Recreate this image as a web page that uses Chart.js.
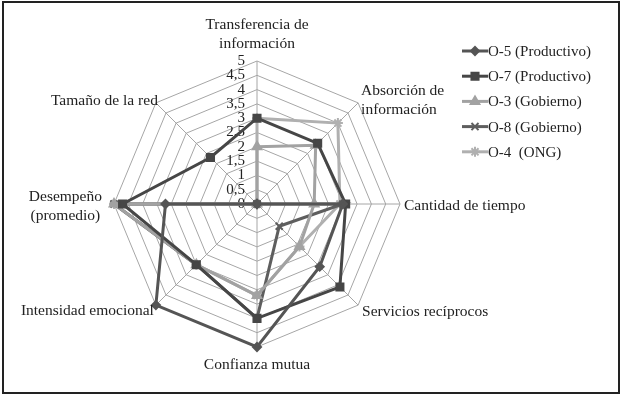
<!doctype html>
<html lang="es">
<head>
<meta charset="utf-8">
<title>Radar</title>
<script src="https://cdn.jsdelivr.net/npm/chart.js"></script>
<style>
  html, body { margin: 0; padding: 0; background: #fff; }
  #wrap { position: relative; width: 623px; height: 400px; }
  #frame { position: absolute; left: 2px; top: 1px; width: 618px; height: 393px; border: 2px solid #222; box-sizing: border-box; pointer-events: none; }
</style>
</head>
<body>
<div id="wrap">
  <canvas id="canvas" width="623" height="400"></canvas>
  <div id="frame"></div>
</div>
<script>
// axes, clockwise from the top
var categories = [
  ['Transferencia de', 'información'],
  ['Absorción de', 'información'],
  'Cantidad de tiempo',
  'Servicios recíprocos',
  'Confianza mutua',
  'Intensidad emocional',
  ['Desempeño', '(promedio)'],
  'Tamaño de la red'
];
var seriesNames = ['O-5 (Productivo)', 'O-7 (Productivo)', 'O-3 (Gobierno)', 'O-8 (Gobierno)', 'O-4  (ONG)'];
var o5 = [0, 0, 3, 3.1, 5, 5, 3.2, 0];
var o7 = [3, 3, 3.1, 4.1, 4, 3, 4.7, 2.3];
var o3 = [2, 2.9, 2, 2.1, 3.2, 3, 5, 0];
var o8 = [0, 0, 3, 1.1, 4, 3, 5, 0];
var o4 = [3, 4, 2.9, 2.1, 3.2, 3, 5, 0];
var tickLabels = ['0', '0,5', '1', '1,5', '2', '2,5', '3', '3,5', '4', '4,5', '5'];

var serif = '"Liberation Serif", "DejaVu Serif", serif';

function ds(label, data, color, style, radius) {
  return {
    label: label,
    data: data,
    borderColor: color,
    backgroundColor: color,
    pointBackgroundColor: color,
    pointBorderColor: color,
    pointStyle: style,
    pointRadius: radius,
    pointBorderWidth: 2,
    borderWidth: 3,
    fill: false
  };
}

var datasets = [
  ds(seriesNames[0], o5, '#555555', 'rectRot', 4),
  ds(seriesNames[1], o7, '#464646', 'rect', 5),
  ds(seriesNames[2], o3, '#a2a2a2', 'triangle', 5),
  ds(seriesNames[3], o8, '#5e5e5e', 'crossRot', 5),
  ds(seriesNames[4], o4, '#b0b0b0', 'star', 5)
];

// tick labels to the left of the vertical axis
var tickPlugin = {
  id: 'ticks',
  beforeDatasetsDraw: function(chart) {
    var s = chart.scales.r, ctx = chart.ctx;
    ctx.save();
    ctx.font = '15px ' + serif;
    ctx.fillStyle = '#222';
    ctx.textAlign = 'right';
    ctx.textBaseline = 'middle';
    tickLabels.forEach(function(t, i) {
      var d = s.getDistanceFromCenterForValue(i * 0.5);
      ctx.fillText(t, s.xCenter - 12, s.yCenter - d);
    });
    ctx.restore();
  }
};

// axis names and legend
var labelPlugin = {
  id: 'labels',
  afterDraw: function(chart) {
    var s = chart.scales.r, ctx = chart.ctx;
    var lh = 19;
    ctx.save();
    ctx.font = '15.5px ' + serif;
    ctx.fillStyle = '#222';
    ctx.textBaseline = 'middle';
    categories.forEach(function(c, i) {
      var lines = Array.isArray(c) ? c : [c];
      var p = s.getPointPosition(i, s.drawingArea);
      var h = lines.length * lh;
      var x = p.x, y;
      var deg = i * 45;
      if (deg === 0) { ctx.textAlign = 'center'; y = p.y - 8 - h + lh / 2; }
      else if (deg === 180) { ctx.textAlign = 'center'; y = p.y + 18 - h / 2 + lh / 2; }
      else if (deg === 90) { ctx.textAlign = 'left'; x = p.x + 4; y = p.y + 2 - h / 2 + lh / 2; }
      else if (deg === 270) {
        ctx.textAlign = 'center';
        var w = Math.max.apply(null, lines.map(function(l) { return ctx.measureText(l).width; }));
        x = p.x - 12 - w / 2; y = p.y + 2 - h / 2 + lh / 2;
      }
      else if (deg === 45) { ctx.textAlign = 'left'; x = p.x + 3; y = p.y - 2 - h / 2 + lh / 2; }
      else if (deg === 135) { ctx.textAlign = 'left'; x = p.x + 4; y = p.y + 7 - h / 2 + lh / 2; }
      else if (deg === 225) { ctx.textAlign = 'right'; x = p.x - 2; y = p.y + 6 - h / 2 + lh / 2; }
      else { ctx.textAlign = 'right'; x = p.x + 2; y = p.y - 2 - h / 2 + lh / 2; }
      lines.forEach(function(l, k) { ctx.fillText(l, x, y + k * lh); });
    });

    // legend: line sample with marker, then the name
    ctx.font = '15px ' + serif;
    ctx.textAlign = 'left';
    chart.data.datasets.forEach(function(d, i) {
      var y = 51 + i * 25.2;
      ctx.strokeStyle = d.borderColor;
      ctx.lineWidth = 3;
      ctx.beginPath();
      ctx.moveTo(462, y);
      ctx.lineTo(488, y);
      ctx.stroke();
      ctx.fillStyle = d.pointBackgroundColor;
      ctx.strokeStyle = d.pointBorderColor;
      ctx.lineWidth = 2;
      Chart.helpers.drawPoint(ctx, { pointStyle: d.pointStyle, radius: d.pointRadius, rotation: 0, borderWidth: 2 }, 475, y);
      ctx.fillStyle = '#222';
      ctx.fillText(d.label, 488, y + 1);
    });
    ctx.restore();
  }
};

var config = {
  type: 'radar',
  data: { labels: categories, datasets: datasets },
  options: {
    responsive: false,
    animation: false,
    devicePixelRatio: 1,
    layout: { padding: { left: 114, right: 223, top: 61, bottom: 53 } },
    plugins: { legend: { display: false }, tooltip: { enabled: false } },
    elements: { line: { tension: 0 } },
    scales: {
      r: {
        min: 0,
        max: 5,
        ticks: { display: false, stepSize: 0.5 },
        grid: { color: '#a6a6a6', lineWidth: 1 },
        angleLines: { color: '#a6a6a6', lineWidth: 1 },
        pointLabels: { display: false }
      }
    }
  },
  plugins: [tickPlugin, labelPlugin]
};

new Chart(document.getElementById('canvas'), config);
</script>
</body>
</html>
